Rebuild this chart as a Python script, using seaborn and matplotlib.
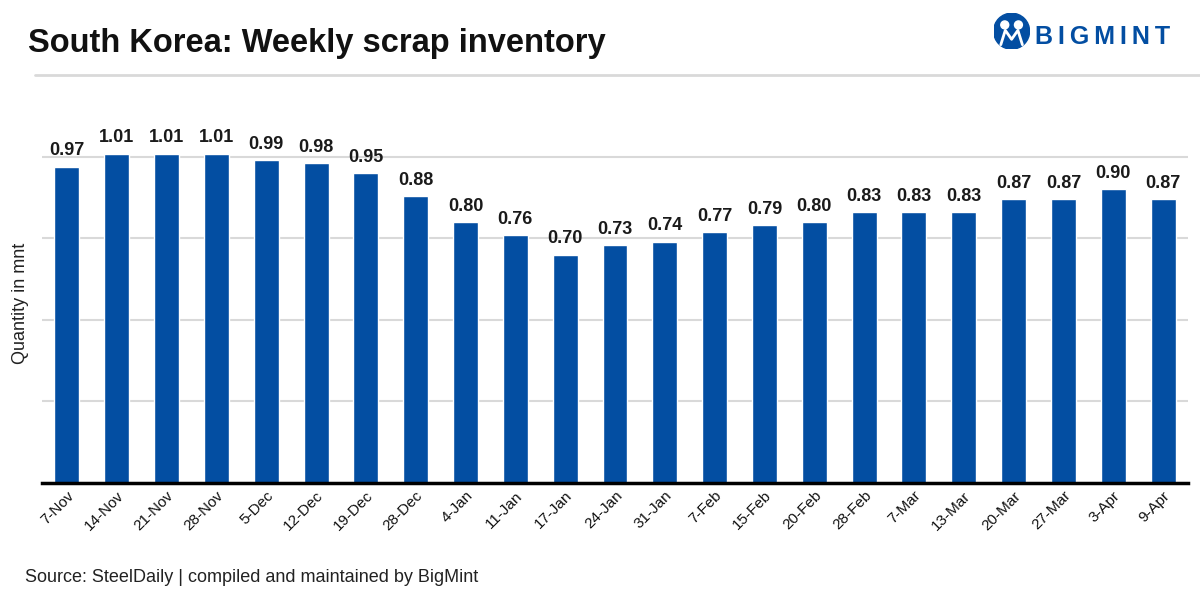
import matplotlib
matplotlib.use("Agg")
import matplotlib.pyplot as plt
import seaborn as sns
import pandas as pd
from matplotlib.patches import Circle
from matplotlib.lines import Line2D

# Data
weeks = ["7-Nov", "14-Nov", "21-Nov", "28-Nov", "5-Dec", "12-Dec", "19-Dec", "28-Dec",
         "4-Jan", "11-Jan", "17-Jan", "24-Jan", "31-Jan", "7-Feb", "15-Feb", "20-Feb",
         "28-Feb", "7-Mar", "13-Mar", "20-Mar", "27-Mar", "3-Apr", "9-Apr"]
inventory = [0.97, 1.01, 1.01, 1.01, 0.99, 0.98, 0.95, 0.88, 0.80, 0.76, 0.70, 0.73,
             0.74, 0.77, 0.79, 0.80, 0.83, 0.83, 0.83, 0.87, 0.87, 0.90, 0.87]

df = pd.DataFrame({"week": weeks, "qty": inventory})

sns.set_style("white")
plt.rcParams['font.family'] = ['Liberation Sans', 'DejaVu Sans']

fig = plt.figure(figsize=(12, 6), dpi=100)
ax = fig.add_axes([0.035, 0.195, 0.955, 0.598])

bar_color = "#034EA2"
sns.barplot(data=df, x="week", y="qty", color=bar_color, width=0.5, ax=ax,
            saturation=1, zorder=3)

for i, v in enumerate(inventory):
    ax.text(i, v + 0.022, f"{v:.2f}", ha="center", va="bottom",
            fontsize=13, fontweight="bold", color="#1a1a1a")

ax.set_ylim(0, 1.1)
ax.set_xlim(-0.5, len(weeks) - 0.5)
ax.set_yticks([0, 0.25, 0.5, 0.75, 1.0])
ax.set_yticklabels([])
ax.tick_params(axis="y", length=0)
ax.yaxis.grid(True, color="#d9d9d9", linewidth=1.5, zorder=0)
ax.xaxis.grid(False)
for s in ["top", "right", "left"]:
    ax.spines[s].set_visible(False)
ax.spines["bottom"].set_color("black")
ax.spines["bottom"].set_linewidth(2.5)
ax.spines["bottom"].set_zorder(4)

ax.set_xlabel("")
ax.set_ylabel("Quantity in mnt", fontsize=13, color="#222222", labelpad=6)
ax.tick_params(axis="x", length=0, pad=4)
plt.setp(ax.get_xticklabels(), rotation=45, ha="right", rotation_mode="anchor",
         fontsize=11, color="#111111")

# Title and separator
fig.text(0.023, 0.927, "South Korea: Weekly scrap inventory", fontsize=23.5,
         fontweight="bold", color="#111111", va="center", ha="left")
fig.add_artist(Line2D([0.029, 1.0], [0.875, 0.875], color="#d9d9d9", linewidth=2,
                      transform=fig.transFigure))

# Logo
lax = fig.add_axes([0.828, 0.918, 0.03, 0.06])
lax.set_xlim(-1, 1)
lax.set_ylim(-1, 1)
lax.set_aspect("equal")
lax.axis("off")
lax.add_patch(Circle((0, 0), 1, color=bar_color))
lax.add_patch(Circle((-0.38, 0.35), 0.22, color="white"))
lax.add_patch(Circle((0.38, 0.35), 0.22, color="white"))
lax.plot([-0.6, -0.35, 0, 0.35, 0.6], [-0.75, 0.05, -0.45, 0.05, -0.75],
         color="white", linewidth=2)
fig.text(0.8625, 0.938, "B\u2009I\u2009G\u2009M\u2009I\u2009N\u2009T", fontsize=18,
         fontweight="bold", color=bar_color, va="center", ha="left")

# Source
fig.text(0.021, 0.037, "Source: SteelDaily | compiled and maintained by BigMint",
         fontsize=13, color="#222222", va="center", ha="left")

fig.savefig("out.png", dpi=100)
